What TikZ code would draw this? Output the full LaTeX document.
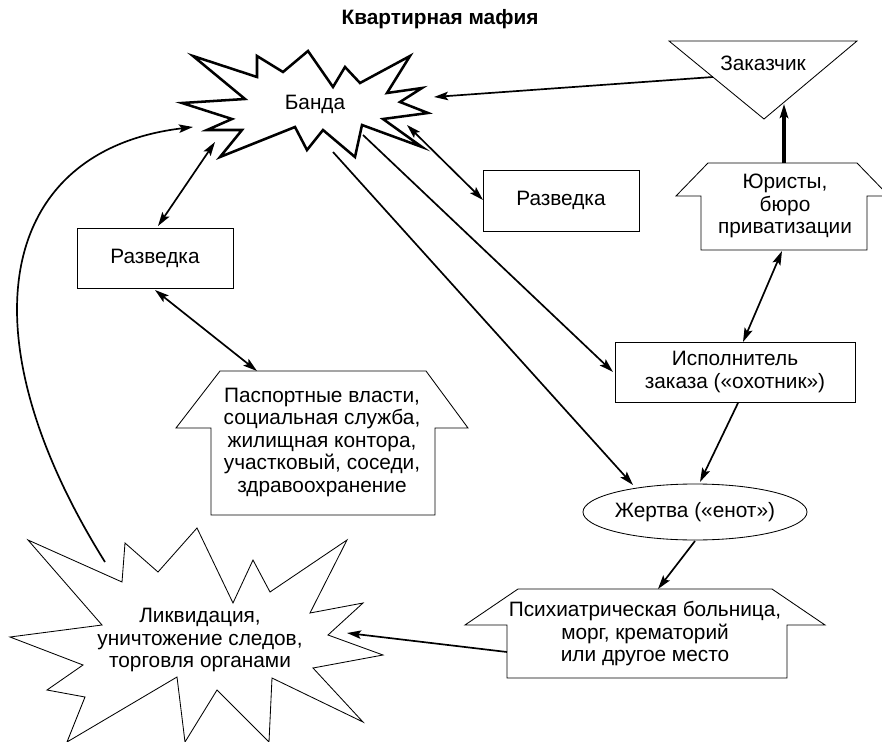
\documentclass[tikz,border=0pt]{standalone}
\usepackage{fontspec}
\setmainfont{Liberation Sans}
\usetikzlibrary{arrows.meta}

\tikzset{
  strelka/.style={line width=1.2pt,-{Stealth[length=10pt,width=6pt,inset=2pt]}},
  dvestrelki/.style={line width=1.2pt,{Stealth[length=10pt,width=6pt,inset=2pt]}-{Stealth[length=10pt,width=6pt,inset=2pt]}},
  tekst/.style={align=center,inner sep=0pt,font=\fontsize{14.8}{16}\selectfont},
  kontur/.style={line width=0.6pt,line join=miter},
}

\begin{document}
\begin{tikzpicture}[x=0.025cm,y=-0.025cm]
  \useasboundingbox (0,0) rectangle (882,742);

  \node[tekst,font=\bfseries\fontsize{14.8}{16}\selectfont] (titel) at (440,19) {Квартирная мафия};

  % Банда
  \draw[line width=1.8pt,line join=miter] (193,56) -- (257,77) -- (257,56) -- (283,72) -- (308,51)
    -- (333,87) -- (345,67) -- (360,83) -- (410,56) -- (387,93) -- (422,88) -- (400,102)
    -- (428,113) -- (383,119) -- (422,147) -- (362,125) -- (355,157) -- (323,130) -- (307,150)
    -- (295,127) -- (220,157) -- (242,130) -- (207,130) -- (232,119) -- (182,103) -- (245,99) -- cycle;
  \node[tekst] (banda) at (315,104) {Банда};

  % Заказчик
  \draw[kontur] (669,41) -- (857,41) -- (764,119) -- cycle;
  \node[tekst] (zakazchik) at (763,63) {Заказчик};

  % Юристы
  \draw[kontur] (701,250) -- (701,196) -- (676,196) -- (708,163) -- (857,163) -- (889,196)
    -- (867,196) -- (867,250) -- cycle;
  \node[tekst] (yuristy) at (785,206) {Юристы,\\бюро\\приватизации};

  % Разведка справа
  \draw[kontur] (483,170) rectangle (639,231);
  \node[tekst] (razvedka2) at (561,200) {Разведка};

  % Разведка слева
  \draw[kontur] (77,228) rectangle (233,288);
  \node[tekst] (razvedka1) at (155,258) {Разведка};

  % Паспортные власти
  \draw[kontur] (211,515) -- (211,428) -- (176,428) -- (220,371) -- (426,371) -- (468,428)
    -- (435,428) -- (435,515) -- cycle;
  \node[tekst] (pasport) at (322,442) {Паспортные власти,\\социальная служба,\\жилищная контора,\\участковый, соседи,\\здравоохранение};

  % Исполнитель
  \draw[kontur] (615,342) rectangle (855,402);
  \node[tekst] (ispolnitel) at (735,372) {Исполнитель\\заказа («охотник»)};

  % Жертва
  \draw[kontur] (695,512) ellipse (112 and 28);
  \node[tekst] (zhertva) at (695,512) {Жертва («енот»)};

  % Психиатрическая больница
  \draw[kontur] (507,678) -- (507,625) -- (465,625) -- (518,589) -- (772,589) -- (825,625)
    -- (787,625) -- (787,678) -- cycle;
  \node[tekst] (psikh) at (645,634) {Психиатрическая больница,\\морг, крематорий\\или другое место};

  % Ликвидация
  \draw[kontur] (28,540) -- (122,582) -- (125,543) -- (158,572) -- (197,528) -- (233,603)
    -- (253,560) -- (270,592) -- (347,540) -- (310,613) -- (363,603) -- (328,635) -- (383,655)
    -- (313,668) -- (363,722) -- (272,678) -- (269,742) -- (217,690) -- (185,742) -- (177,677)
    -- (67,742) -- (85,697) -- (47,690) -- (83,665) -- (10,637) -- (102,625) -- cycle;
  \node[tekst] (likvid) at (200,640) {Ликвидация,\\уничтожение следов,\\торговля органами};

  % концы стрелок
  \coordinate (zk-l) at (713,77);
  \coordinate (bd-zk) at (434,97);
  \coordinate (yu-t) at (784,163);
  \coordinate (zk-b) at (784,104);
  \coordinate (bd-r2) at (407,125);
  \coordinate (r2-l) at (483,200);
  \coordinate (bd-r1) at (215,142);
  \coordinate (r1-t) at (158,226);
  \coordinate (r1-b) at (155,290);
  \coordinate (ps-t) at (257,371);
  \coordinate (bd-is) at (363,135);
  \coordinate (is-l) at (613,372);
  \coordinate (bd-zh) at (333,152);
  \coordinate (zh-l) at (633,485);
  \coordinate (yu-b) at (782,251);
  \coordinate (is-t) at (743,342);
  \coordinate (is-b) at (738,403);
  \coordinate (zh-t) at (700,482);
  \coordinate (zh-b) at (695,541);
  \coordinate (pk-t) at (658,589);
  \coordinate (pk-l) at (507,652);
  \coordinate (lk-r) at (347,633);
  \coordinate (lk-t) at (105,562);
  \coordinate (bd-lk) at (193,127);

  % стрелки
  \draw[strelka] (zk-l) -- (bd-zk);
  \draw[strelka,line width=2.4pt] (yu-t) -- (zk-b);
  \draw[dvestrelki] (bd-r2) -- (r2-l);
  \draw[dvestrelki] (bd-r1) -- (r1-t);
  \draw[dvestrelki] (r1-b) -- (ps-t);
  \draw[strelka] (bd-is) -- (is-l);
  \draw[strelka] (bd-zh) -- (zh-l);
  \draw[dvestrelki] (yu-b) -- (is-t);
  \draw[strelka] (is-b) -- (zh-t);
  \draw[strelka] (zh-b) -- (pk-t);
  \draw[strelka] (pk-l) -- (lk-r);
  \draw[strelka] (lk-t) .. controls (-40,330) and (0,150) .. (bd-lk);
\end{tikzpicture}
\end{document}
